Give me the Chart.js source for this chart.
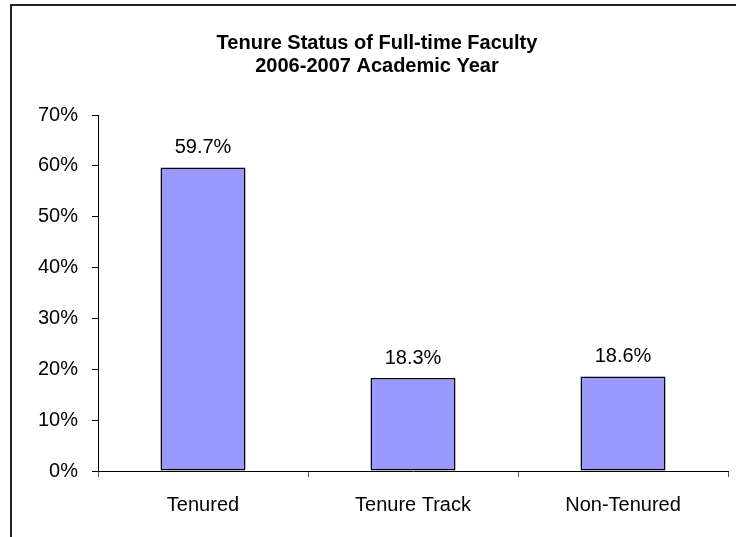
<!DOCTYPE html>
<html>
<head>
<meta charset="utf-8">
<script src="https://cdn.jsdelivr.net/npm/chart.js@4/dist/chart.umd.min.js"></script>
<style>
  body { margin: 0; background: #fff; }
  canvas { display: block; }
</style>
</head>
<body>
<canvas id="tenureChart" width="736" height="537"></canvas>
<script>
const categories = ["Tenured", "Tenure Track", "Non-Tenured"];
const shares = [59.7, 18.3, 18.6];
const titleLines = ["Tenure Status of Full-time Faculty", "2006-2007 Academic Year"];

Chart.defaults.font.family = "'Liberation Sans', Arial, sans-serif";
Chart.defaults.color = "#000";

// frame around the chart (cut off at right and bottom as in the picture)
const framePlugin = {
    id: "frame",
    beforeDraw(chart) {
        const ctx = chart.ctx;
        ctx.save();
        ctx.fillStyle = "#fff";
        ctx.fillRect(0, 0, chart.width, chart.height);
        ctx.strokeStyle = "#222";
        ctx.lineWidth = 2;
        ctx.strokeRect(11, 5, 800, 800);
        ctx.restore();
    }
};

// value labels above bars
const valueLabels = {
    id: "valueLabels",
    afterDatasetsDraw(chart) {
        const ctx = chart.ctx;
        const meta = chart.getDatasetMeta(0);
        ctx.save();
        ctx.font = "20px 'Liberation Sans', Arial, sans-serif";
        ctx.fillStyle = "#000";
        ctx.textAlign = "center";
        ctx.textBaseline = "alphabetic";
        meta.data.forEach((bar, i) => {
            ctx.fillText(shares[i].toFixed(1) + "%", bar.x, bar.y - 14);
        });
        ctx.restore();
    }
};

const ctx = document.getElementById("tenureChart").getContext("2d");
new Chart(ctx, {
    type: "bar",
    data: {
        labels: categories,
        datasets: [{
            data: shares,
            backgroundColor: "#9999FF",
            borderColor: "#000",
            borderWidth: 1.5,
            borderSkipped: false,
            categoryPercentage: 1,
            barPercentage: 0.405
        }]
    },
    options: {
        responsive: false,
        animation: false,
        layout: { padding: { top: 12, left: 26, right: 8, bottom: 4 } },
        plugins: {
            legend: { display: false },
            tooltip: { enabled: false },
            title: {
                display: true,
                text: titleLines,
                color: "#000",
                font: { size: 20, weight: "bold", lineHeight: 1.15 },
                padding: { top: 20, bottom: 37 }
            }
        },
        scales: {
            x: {
                grid: { drawOnChartArea: false, tickLength: 6, color: "#555" },
                border: { display: true, color: "#000", width: 1 },
                ticks: { font: { size: 20 }, padding: 16, color: "#000", maxRotation: 0 }
            },
            y: {
                min: 0,
                max: 70,
                afterFit(scale) { scale.width = 72; },
                grid: { drawOnChartArea: false, tickLength: 6, color: "#000" },
                border: { display: true, color: "#000", width: 1 },
                ticks: {
                    stepSize: 10,
                    padding: 14,
                    color: "#000",
                    font: { size: 20 },
                    callback: v => v + "%"
                }
            }
        }
    },
    plugins: [framePlugin, valueLabels]
});
</script>
</body>
</html>
